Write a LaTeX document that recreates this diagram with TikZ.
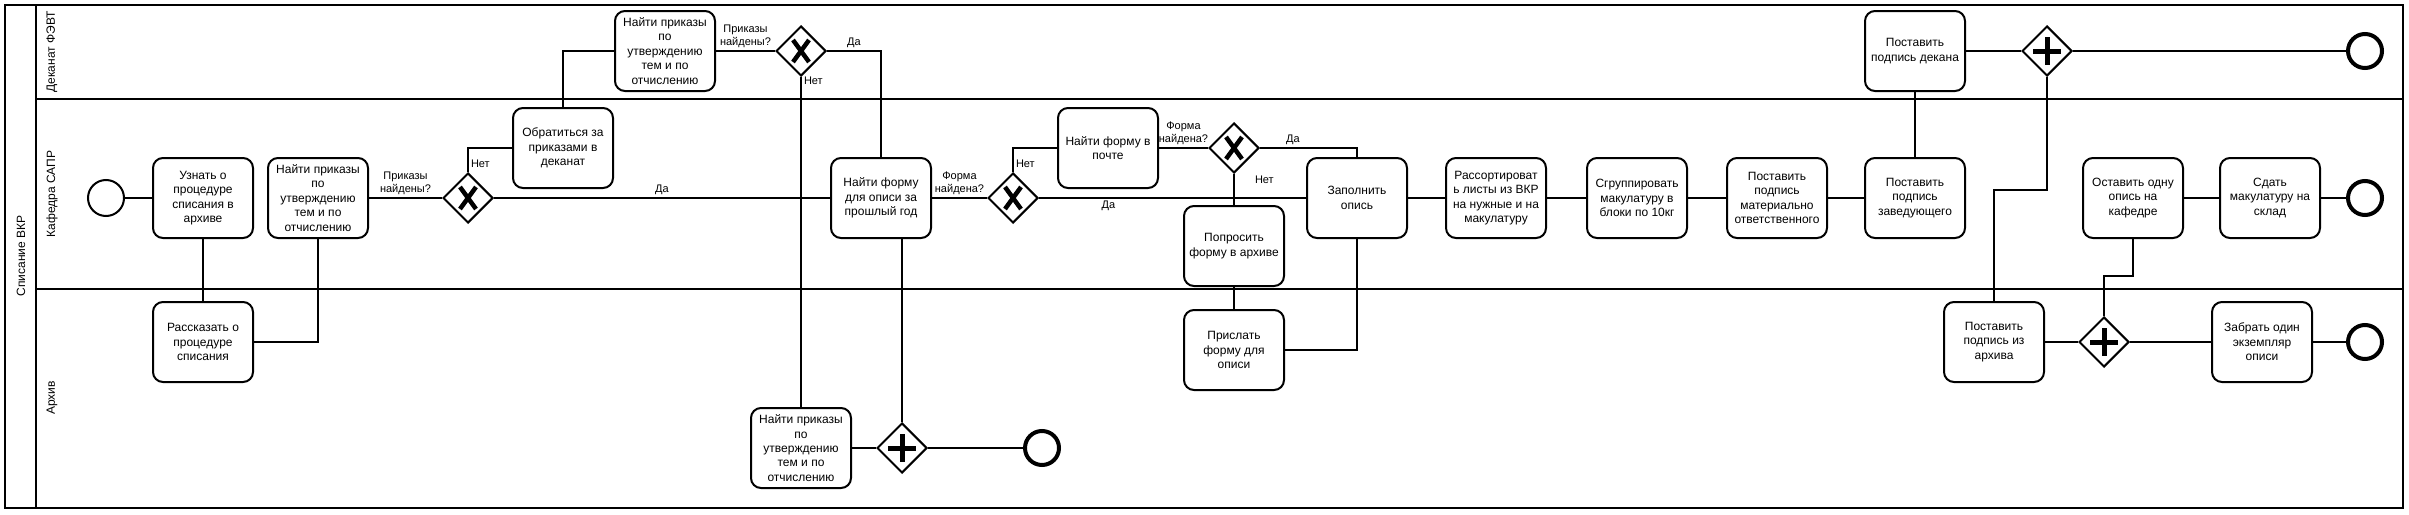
\documentclass[tikz,border=0pt]{standalone}
\usepackage{fontspec}
\setmainfont{Liberation Sans}
\usetikzlibrary{positioning, shapes.geometric}

\tikzset{
    task/.style={draw, rounded corners=10pt, minimum width=100pt, minimum height=80pt,
        align=center, inner sep=1pt, font=\fontsize{12}{14.4}\selectfont},
    lane/.style={rotate=90, font=\fontsize{12}{14.4}\selectfont},
    lbl/.style={align=center, inner sep=2pt, font=\fontsize{11}{13}\selectfont},
    gate/.style={draw, diamond, aspect=1, minimum width=50pt, minimum height=50pt, inner sep=0pt},
    xgate/.style={gate, path picture={
        \draw[line width=4.5pt]
            ([shift={(-8,-11)}]path picture bounding box.center) -- ([shift={(8,11)}]path picture bounding box.center)
            ([shift={(-8,11)}]path picture bounding box.center) -- ([shift={(8,-11)}]path picture bounding box.center);
    }},
    pgate/.style={gate, path picture={
        \draw[line width=5pt]
            ([shift={(-14,0)}]path picture bounding box.center) -- ([shift={(14,0)}]path picture bounding box.center)
            ([shift={(0,-14)}]path picture bounding box.center) -- ([shift={(0,14)}]path picture bounding box.center);
    }},
    startev/.style={draw, circle, minimum size=36pt, inner sep=0pt},
    endev/.style={draw, circle, minimum size=34pt, inner sep=0pt, line width=4pt}
}

\begin{document}
\begin{tikzpicture}[x=1pt, y=-1pt, line width=2pt]
    \useasboundingbox (0,0) rectangle (2409,514);
    % пул и дорожки
    \draw (5,5) rectangle (2403,508);
    \draw (36,5) -- (36,508);
    \draw (36,99) -- (2403,99);
    \draw (36,289) -- (2403,289);
    \node[lane] (pool) at (21,256) {Списание ВКР};
    \node[lane] (laneDek) at (52,52) {Деканат ФЭВТ};
    \node[lane] (laneKaf) at (52,194) {Кафедра САПР};
    \node[lane] (laneArh) at (52,398) {Архив};

    % события и задачи
    \node[startev] (start) at (106,198) {};
    \node[task] (uznat) at (203,198) {Узнать о\\процедуре\\списания в\\архиве};
    \node[task] (najti1) at (318,198) {Найти приказы\\по\\утверждению\\тем и по\\отчислению};
    \node[task] (rasskazat) at (203,342) {Рассказать о\\процедуре\\списания};
    \node[xgate] (gw1) at (468,198) {};
    \node[task] (obratitsya) at (563,148) {Обратиться за\\приказами в\\деканат};
    \node[task] (najtiDek) at (665,51) {Найти приказы\\по\\утверждению\\тем и по\\отчислению};
    \node[xgate] (gw2) at (801,51) {};
    \node[task] (najtiForm) at (881,198) {Найти форму\\для описи за\\прошлый год};
    \node[task] (najtiArh) at (801,448) {Найти приказы\\по\\утверждению\\тем и по\\отчислению};
    \node[pgate] (gwA) at (902,448) {};
    \node[endev] (endA) at (1042,448) {};
    \node[xgate] (gw3) at (1013,198) {};
    \node[task] (pochta) at (1108,148) {Найти форму в\\почте};
    \node[xgate] (gw4) at (1234,148) {};
    \node[task] (poprosit) at (1234,246) {Попросить\\форму в архиве};
    \node[task] (prislat) at (1234,350) {Прислать\\форму для\\описи};
    \node[task] (zapolnit) at (1357,198) {Заполнить\\опись};
    \node[task] (rassort) at (1496,198) {Рассортироват\\ь листы из ВКР\\на нужные и на\\макулатуру};
    \node[task] (sgrupp) at (1637,198) {Сгруппировать\\макулатуру в\\блоки по 10кг};
    \node[task] (matotv) at (1777,198) {Поставить\\подпись\\материально\\ответственного};
    \node[task] (zaved) at (1915,198) {Поставить\\подпись\\заведующего};
    \node[task] (dekan) at (1915,51) {Поставить\\подпись декана};
    \node[pgate] (gwB) at (2047,51) {};
    \node[endev] (endDek) at (2365,51) {};
    \node[task] (arhPodp) at (1994,342) {Поставить\\подпись из\\архива};
    \node[pgate] (gwC) at (2104,342) {};
    \node[task] (ostavit) at (2133,198) {Оставить одну\\опись на\\кафедре};
    \node[task] (sdat) at (2270,198) {Сдать\\макулатуру на\\склад};
    \node[endev] (endKaf) at (2365,198) {};
    \node[task] (zabrat) at (2262,342) {Забрать один\\экземпляр\\описи};
    \node[endev] (endArh) at (2365,342) {};

    % потоки
    \draw (start.east) -- (uznat.west);
    \draw (uznat.south) -- (rasskazat.north);
    \draw (rasskazat.east) -| (najti1.south);
    \draw (najti1.east) -- node[lbl, above] {Приказы\\найдены?} (gw1.west);
    \draw (gw1.north) |- node[lbl, pos=0.18, right] {Нет} (obratitsya.west);
    \draw (gw1.east) -- node[lbl, above] {Да} (najtiForm.west);
    \draw (obratitsya.north) |- (najtiDek.west);
    \draw (najtiDek.east) -- node[lbl, above] {Приказы\\найдены?} (gw2.west);
    \draw (gw2.east) -| node[lbl, pos=0.25, above] {Да} (najtiForm.north);
    \draw (gw2.south) -- node[lbl, pos=0.01, right] {Нет} (najtiArh.north);
    \draw (najtiForm.south -| gwA.north) -- (gwA.north);
    \draw (najtiArh.east) -- (gwA.west);
    \draw (gwA.east) -- (endA.west);
    \draw (najtiForm.east) -- node[lbl, above] {Форма\\найдена?} (gw3.west);
    \draw (gw3.north) |- node[lbl, pos=0.18, right] {Нет} (pochta.west);
    \draw (gw3.east) -- node[lbl, pos=0.26, below] {Да} (zapolnit.west);
    \draw (pochta.east) -- node[lbl, above] {Форма\\найдена?} (gw4.west);
    \draw (gw4.east) -| node[lbl, pos=0.17, above] {Да} (zapolnit.north);
    \draw (gw4.south) -- node[lbl, pos=0.18, right=18pt] {Нет} (poprosit.north);
    \draw (poprosit.south) -- (prislat.north);
    \draw (prislat.east) -| (zapolnit.south);
    \draw (zapolnit.east) -- (rassort.west);
    \draw (rassort.east) -- (sgrupp.west);
    \draw (sgrupp.east) -- (matotv.west);
    \draw (matotv.east) -- (zaved.west);
    \draw (zaved.north) -- (dekan.south);
    \draw (dekan.east) -- (gwB.west);
    \draw (gwB.east) -- (endDek.west);
    \draw (gwB.south) -- ++(0,113) -| (arhPodp.north);
    \draw (arhPodp.east) -- (gwC.west);
    \draw (gwC.north) -- ++(0,-40) -| (ostavit.south);
    \draw (gwC.east) -- (zabrat.west);
    \draw (zabrat.east) -- (endArh.west);
    \draw (ostavit.east) -- (sdat.west);
    \draw (sdat.east) -- (endKaf.west);
\end{tikzpicture}
\end{document}
